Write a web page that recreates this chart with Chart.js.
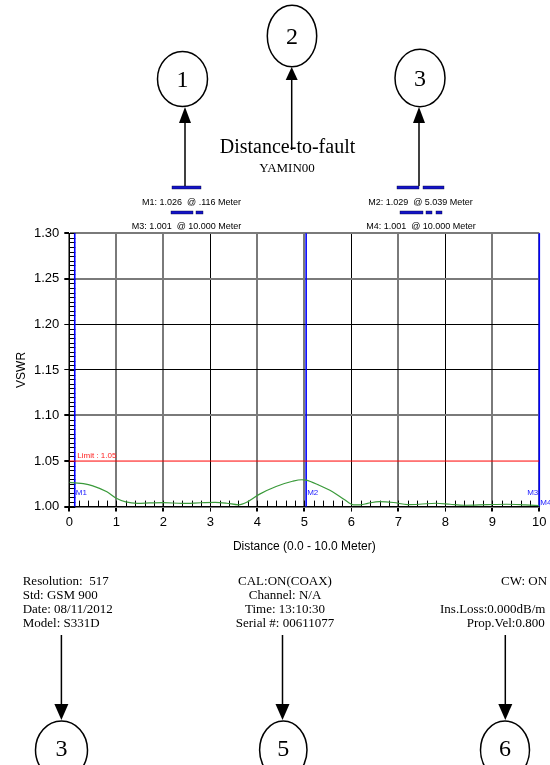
<!DOCTYPE html>
<html>
<head>
<meta charset="utf-8">
<title>Distance-to-fault</title>
<script src="https://cdn.jsdelivr.net/npm/chart.js@4.4.0/dist/chart.umd.min.js"></script>
<style>
  html, body { margin: 0; padding: 0; background: #fff; }
  body { width: 550px; height: 765px; overflow: hidden; position: relative; }
  #chart { position: absolute; left: 0; top: 0; }
  svg { position: absolute; left: 0; top: 0; }
  .t { position: absolute; white-space: pre; line-height: 1; color: #000; }
  .serif { font-family: "Liberation Serif", "Times New Roman", serif; }
  .sans { font-family: "Liberation Sans", Arial, sans-serif; }
  .mid { transform: translate(-50%, -50%); }
  .left { transform: translateY(-50%); }
  .num { font-size: 24px; }
  .info { font-size: 13px; }
  .mk { font-size: 9px; }
</style>
</head>
<body>
<canvas id="chart" width="550" height="765"></canvas>

<svg width="550" height="765">
  <g fill="none" stroke="#000" stroke-width="1.5">
    <ellipse cx="182.5" cy="79" rx="25" ry="27.5"/>
    <ellipse cx="292" cy="36" rx="24.7" ry="30.8"/>
    <ellipse cx="420" cy="78" rx="25" ry="28.7"/>
    <ellipse cx="61.5" cy="750" rx="26" ry="29"/>
    <ellipse cx="283.3" cy="750" rx="23.7" ry="29"/>
    <ellipse cx="505" cy="750" rx="24.5" ry="29"/>
    <line x1="185" y1="122" x2="185" y2="186"/>
    <line x1="291.7" y1="79" x2="291.7" y2="150"/>
    <line x1="419" y1="122" x2="419" y2="186"/>
    <line x1="61.4" y1="635" x2="61.4" y2="705"/>
    <line x1="282.5" y1="635" x2="282.5" y2="705"/>
    <line x1="505.3" y1="635" x2="505.3" y2="705"/>
  </g>
  <g fill="#000">
    <polygon points="185,107 179,123 191,123"/>
    <polygon points="291.7,67 285.7,80 297.7,80"/>
    <polygon points="419,107 413,123 425,123"/>
    <polygon points="61.4,720 54.4,704 68.4,704"/>
    <polygon points="282.5,720 275.5,704 289.5,704"/>
    <polygon points="505.3,720 498.3,704 512.3,704"/>
  </g>
  <g fill="#1414c8" stroke="#000033" stroke-width="0.4">
    <rect x="172" y="186" width="29" height="3"/>
    <rect x="171" y="211" width="22" height="3"/>
    <rect x="196" y="211" width="7" height="3"/>
    <rect x="397" y="186" width="22" height="3"/>
    <rect x="423" y="186" width="21" height="3"/>
    <rect x="400" y="211" width="23" height="3"/>
    <rect x="426" y="211" width="6" height="3"/>
    <rect x="436" y="211" width="6" height="3"/>
  </g>
</svg>

<div class="t serif num mid" style="left:182.5px;top:79px">1</div>
<div class="t serif num mid" style="left:292px;top:36px">2</div>
<div class="t serif num mid" style="left:420px;top:78px">3</div>
<div class="t serif num mid" style="left:61.5px;top:748px">3</div>
<div class="t serif num mid" style="left:283.3px;top:748px">5</div>
<div class="t serif num mid" style="left:505px;top:748px">6</div>

<div class="t serif mid" style="left:287.5px;top:146px;font-size:20px;">Distance-to-fault</div>
<div class="t serif mid" style="left:287px;top:166.5px;font-size:13px;">YAMIN00</div>

<div id="m1" class="t sans mk mid" style="left:191.5px;top:201.5px"></div>
<div id="m3" class="t sans mk mid" style="left:186.5px;top:225.5px"></div>
<div id="m2" class="t sans mk mid" style="left:420.5px;top:201.5px"></div>
<div id="m4" class="t sans mk mid" style="left:421px;top:225.5px"></div>

<div class="t serif info left" style="left:22.7px;top:580px">Resolution:  517</div>
<div class="t serif info left" style="left:22.7px;top:594px">Std: GSM 900</div>
<div class="t serif info left" style="left:22.7px;top:608px">Date: 08/11/2012</div>
<div class="t serif info left" style="left:22.7px;top:622px">Model: S331D</div>

<div class="t serif info mid" style="left:285px;top:580px">CAL:ON(COAX)</div>
<div class="t serif info mid" style="left:285px;top:594px">Channel: N/A</div>
<div class="t serif info mid" style="left:285px;top:608px">Time: 13:10:30</div>
<div class="t serif info mid" style="left:285px;top:622px">Serial #: 00611077</div>

<div class="t serif info left" style="left:501px;top:580px">CW: ON</div>
<div class="t serif info left" style="left:440px;top:608px">Ins.Loss:0.000dB/m</div>
<div class="t serif info left" style="left:466.7px;top:622px">Prop.Vel:0.800</div>

<script>
// trace (distance in meter, VSWR)
const distance = [0, 0.116, 0.3, 0.5, 0.8, 1.0, 1.2, 1.45, 1.7, 2.0, 2.4, 2.8, 3.1, 3.35, 3.6, 3.8, 4.05, 4.4, 4.75, 4.95,
  5.039, 5.3, 5.6, 5.85, 6.05, 6.2, 6.35, 6.6, 6.9, 7.2, 7.45, 7.8, 8.1, 8.4, 8.9, 9.3, 9.7, 10];
const vswr = [1.0265, 1.026, 1.0252, 1.0228, 1.0162, 1.0092, 1.0052, 1.0036, 1.004, 1.0044, 1.0035, 1.0042, 1.0046, 1.0037, 1.002, 1.0055, 1.0137, 1.0221, 1.0278, 1.0295,
  1.029, 1.0238, 1.0164, 1.0078, 1.0019, 1.002, 1.0036, 1.0055, 1.0045, 1.0022, 1.0026, 1.0037, 1.0026, 1.0015, 1.0022, 1.0026, 1.0018, 1.001];

// markers
const markerNames = ['M1', 'M2', 'M3', 'M4'];
const markerDist = [0.116, 5.039, 10, 10];
const markerVswr = [1.026, 1.029, 1.001, 1.001];

const limitVswr = 1.05;
const yMin = 1.0, yMax = 1.3;
const xMin = 0, xMax = 10;

// marker readouts above the plot
markerNames.forEach((name, i) => {
  const d = markerDist[i].toFixed(3).replace(/^0\./, '.');
  document.getElementById(name.toLowerCase()).textContent =
    `${name}: ${markerVswr[i].toFixed(3)}  @ ${d} Meter`;
});

const near = (a, b) => Math.abs(a - b) < 1e-6;
const blackY = [1.20, 1.15];
const blackX = [3, 6, 8];

// small ticks inside the axes
const minorTicks = {
  id: 'minorTicks',
  beforeDatasetsDraw(chart) {
    const { ctx, chartArea: a, scales: { x, y } } = chart;
    ctx.save();
    ctx.strokeStyle = '#000';
    ctx.lineWidth = 1;
    ctx.beginPath();
    for (let i = 0; i <= 50; i++) {
      const px = Math.round(x.getPixelForValue(i * 0.2)) + 0.5;
      ctx.moveTo(px, a.bottom);
      ctx.lineTo(px, a.bottom - 6);
    }
    for (let i = 0; i <= 60; i++) {
      const py = Math.round(y.getPixelForValue(yMin + i * 0.005)) + 0.5;
      ctx.moveTo(a.left, py);
      ctx.lineTo(a.left + 6, py);
    }
    ctx.stroke();
    ctx.restore();
  }
};

// marker names and limit caption
const markerLabels = {
  id: 'markerLabels',
  afterDatasetsDraw(chart) {
    const { ctx, chartArea: a, scales: { x, y } } = chart;
    ctx.save();
    ctx.font = '8px "Liberation Sans", Arial, sans-serif';
    ctx.textBaseline = 'middle';
    ctx.fillStyle = '#2020ff';
    markerNames.forEach((name, i) => {
      const px = x.getPixelForValue(markerDist[i]);
      if (name === 'M3') {
        ctx.textAlign = 'right';
        ctx.fillText(name, px - 1, a.bottom - 14);
      } else if (name === 'M4') {
        ctx.textAlign = 'left';
        ctx.fillText(name, px + 1, a.bottom - 3.5);
      } else {
        ctx.textAlign = 'left';
        ctx.fillText(name, px + 1, a.bottom - 14);
      }
    });
    ctx.fillStyle = '#ff2020';
    ctx.textAlign = 'left';
    ctx.fillText('Limit : ' + limitVswr.toFixed(2), a.left + 8, y.getPixelForValue(limitVswr) - 5.5);
    ctx.restore();
  }
};

const markerLines = [...new Set(markerDist)].map(d => ({
  data: [{ x: d, y: yMin }, { x: d, y: yMax }],
  borderColor: '#0000ff',
  borderWidth: 1.6,
  pointRadius: 0,
  clip: false
}));

const data = {
  datasets: [
    {
      data: distance.map((d, i) => ({ x: d, y: vswr[i] })),
      borderColor: '#3a9a3a',
      borderWidth: 1.2,
      pointRadius: 0,
      cubicInterpolationMode: 'monotone'
    },
    {
      data: [{ x: xMin, y: limitVswr }, { x: xMax, y: limitVswr }],
      borderColor: '#ff0000',
      borderWidth: 1,
      pointRadius: 0
    },
    ...markerLines
  ]
};

const axisFont = { family: '"Liberation Sans", Arial, sans-serif', size: 13 };
const titleFont = { family: '"Liberation Sans", Arial, sans-serif', size: 12 };

const options = {
  responsive: false,
  animation: false,
  devicePixelRatio: 1,
  layout: {
    padding: { left: 0, top: 233.3, right: 10.7, bottom: 208.4 }
  },
  plugins: {
    legend: { display: false },
    tooltip: { enabled: false }
  },
  scales: {
    x: {
      type: 'linear',
      min: xMin,
      max: xMax,
      ticks: { stepSize: 1, color: '#000', font: axisFont, padding: 3, maxRotation: 0 },
      grid: {
        color: c => blackX.some(v => near(v, c.tick.value)) ? '#000' : '#7a7a7a',
        lineWidth: c => blackX.some(v => near(v, c.tick.value)) ? 1 : 2,
        tickColor: '#000',
        tickLength: 5
      },
      border: { color: '#000', width: 1 },
      title: {
        display: true,
        text: 'Distance (0.0 - 10.0 Meter)',
        color: '#000',
        font: titleFont,
        padding: { top: 0, bottom: 2.4 }
      },
      afterFit: s => { s.height = 50; }
    },
    y: {
      type: 'linear',
      min: yMin,
      max: yMax,
      ticks: { stepSize: 0.05, color: '#000', font: axisFont, padding: 5, callback: v => v.toFixed(2) },
      grid: {
        color: c => near(c.tick.value, limitVswr) ? 'rgba(0,0,0,0)' :
          (blackY.some(v => near(v, c.tick.value)) ? '#000' : '#7a7a7a'),
        lineWidth: c => blackY.some(v => near(v, c.tick.value)) ? 1 : 2,
        tickColor: '#000',
        tickLength: 5
      },
      border: { color: '#000', width: 1 },
      title: {
        display: true,
        text: 'VSWR',
        color: '#000',
        font: titleFont,
        padding: { top: 14.5, bottom: 0 }
      },
      afterFit: s => { s.width = 69.3; }
    }
  }
};

new Chart(document.getElementById('chart'), {
  type: 'line',
  data,
  options,
  plugins: [minorTicks, markerLabels]
});
</script>
</body>
</html>
